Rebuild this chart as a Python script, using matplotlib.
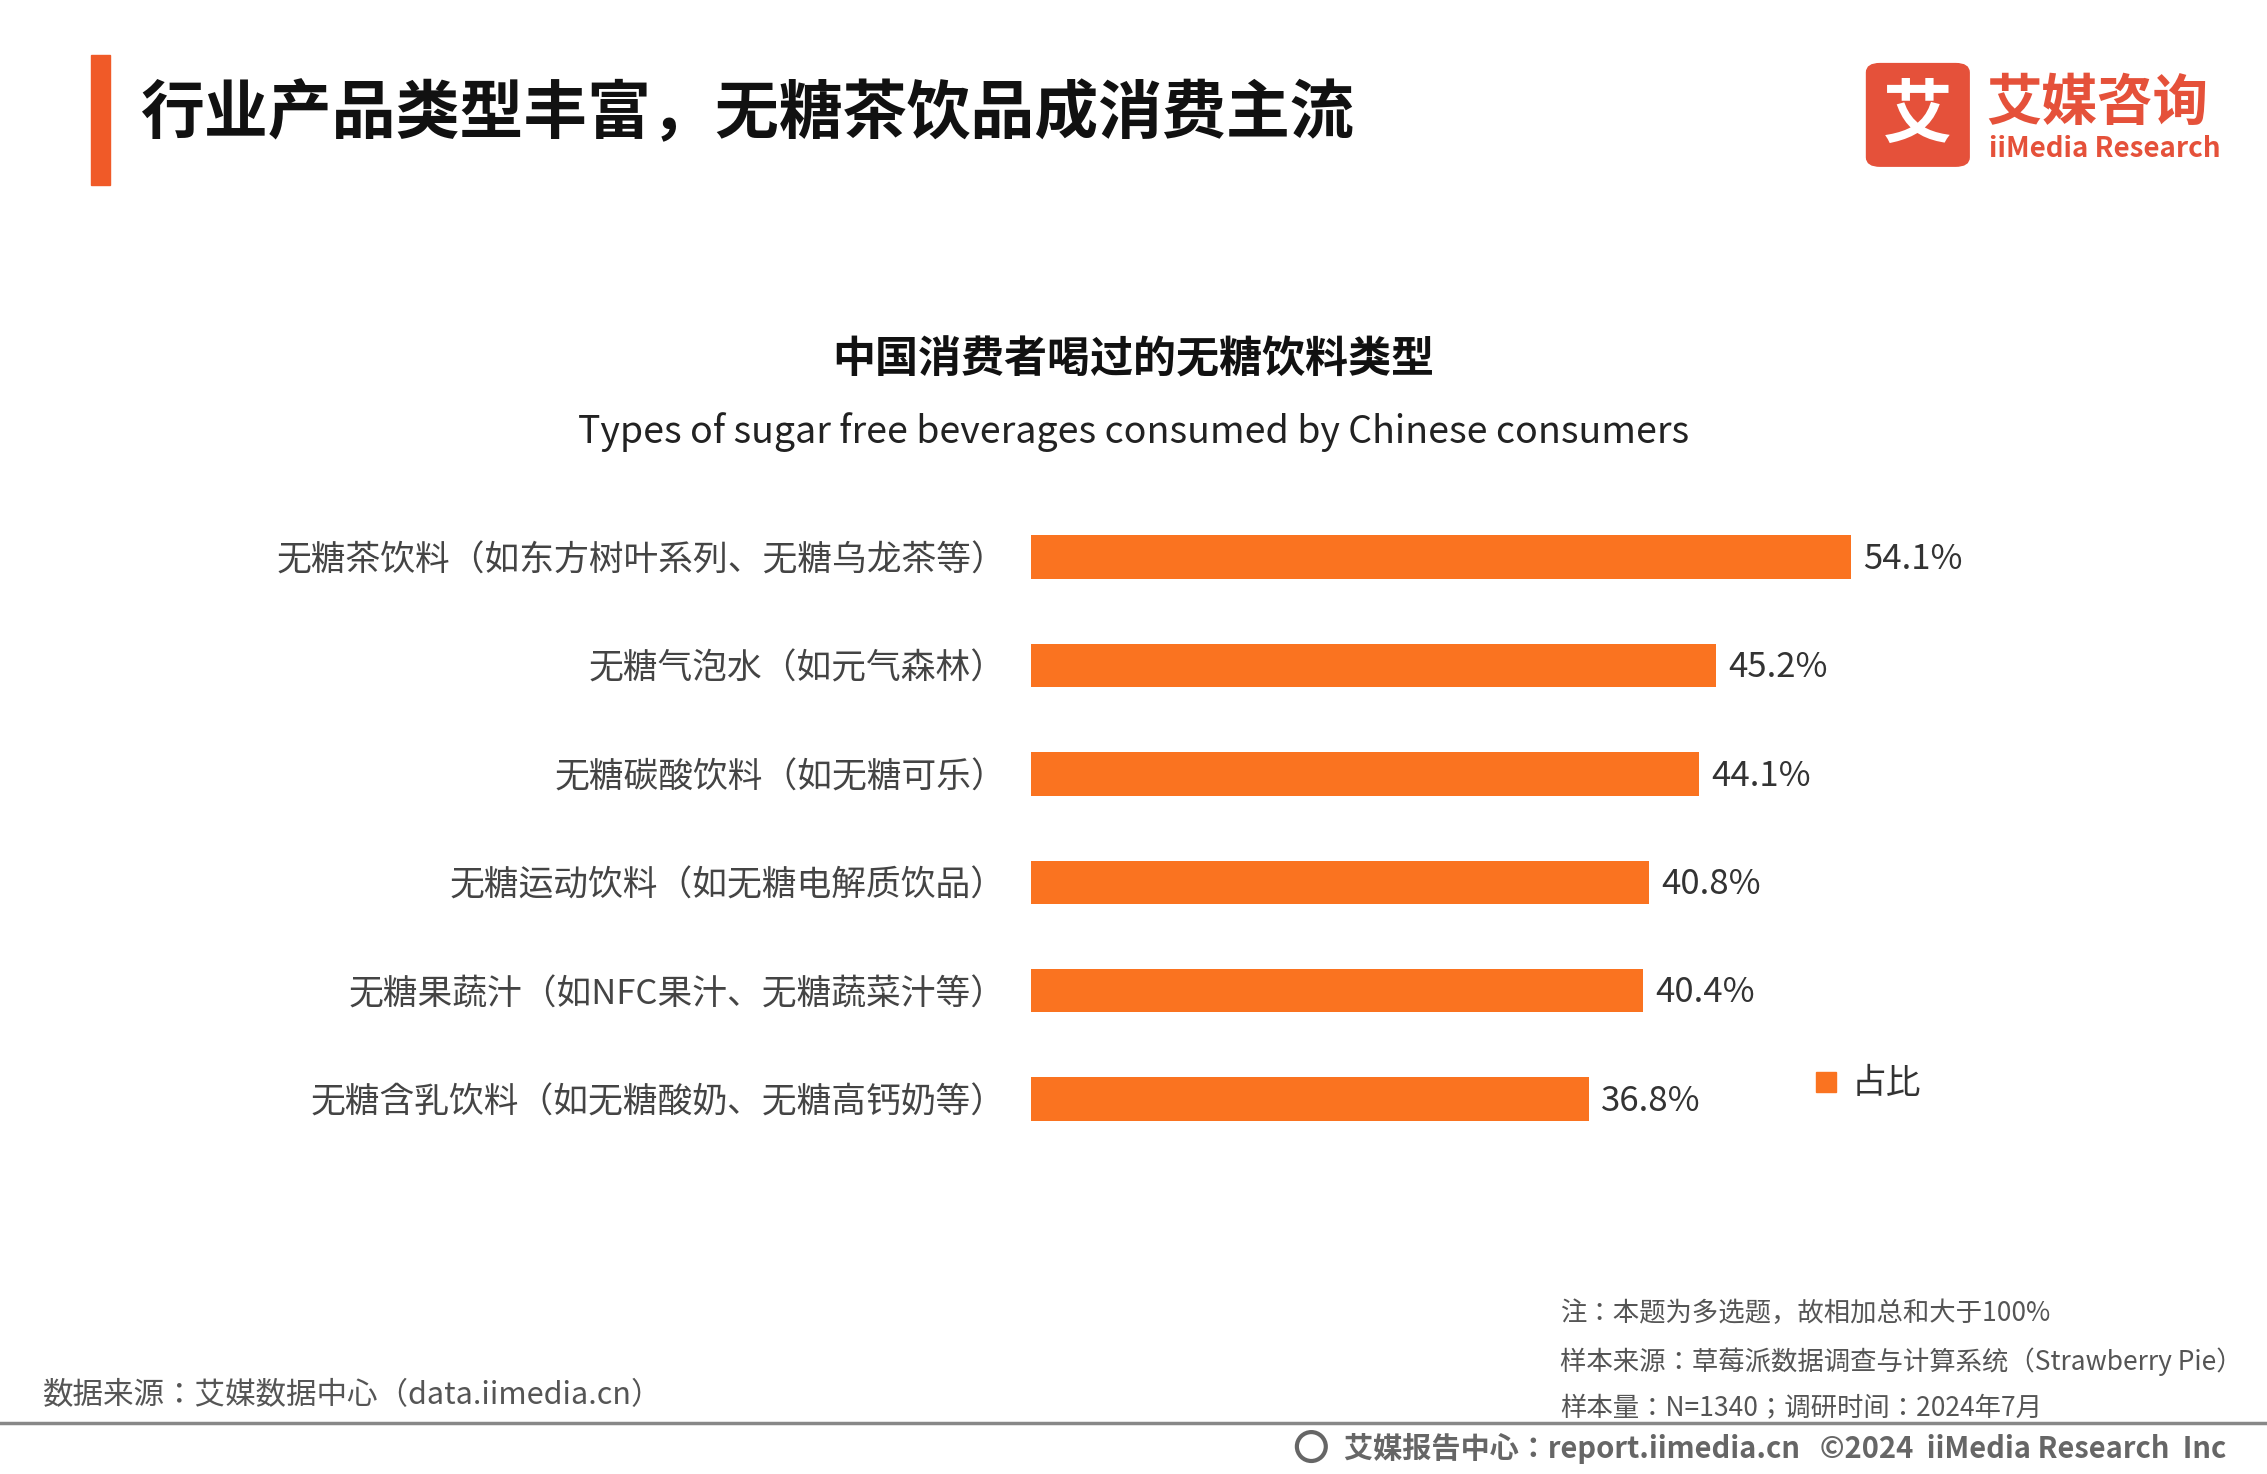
import matplotlib
matplotlib.use("Agg")
import matplotlib.pyplot as plt
from matplotlib import font_manager as fm
from matplotlib.patches import Rectangle, FancyBboxPatch, Ellipse

cjk = sorted({f.name for f in fm.fontManager.ttflist if "CJK" in f.name})
pref = [n for n in ["Noto Sans CJK SC", "Noto Sans CJK JP", "Noto Sans CJK TC", "Noto Sans CJK KR"] if n in cjk] + cjk
plt.rcParams["font.family"] = pref[:1] + ["DejaVu Sans"]

categories = ["无糖茶饮料（如东方树叶系列、无糖乌龙茶等）", "无糖气泡水（如元气森林）",
              "无糖碳酸饮料（如无糖可乐）", "无糖运动饮料（如无糖电解质饮品）",
              "无糖果蔬汁（如NFC果汁、无糖蔬菜汁等）", "无糖含乳饮料（如无糖酸奶、无糖高钙奶等）"]
values = [54.1, 45.2, 44.1, 40.8, 40.4, 36.8]
value_labels = ["54.1%", "45.2%", "44.1%", "40.8%", "40.4%", "36.8%"]

W, H = 1568, 1020
fig = plt.figure(figsize=(22.67, 14.74), dpi=100)
def fx(x): return x / W
def fy(y): return 1 - y / H

orange = "#FA7320"
ax = fig.add_axes([fx(713), fy(798), fx(629), 450 / H])
ax.barh(range(len(values)), values, height=0.4, color=orange)
ax.set_ylim(5.5, -0.5)
ax.set_xlim(0, 60)
for i, (v, t) in enumerate(zip(values, value_labels)):
    ax.text(v + 0.8, i + 0.02, t, va="center", ha="left", fontsize=25, color="#333333")
ax.set_yticks(range(len(values)))
ax.set_yticklabels(categories, fontsize=25, color="#444444")
ax.tick_params(axis="y", length=0, pad=18)
ax.set_xticks([])
for s in ax.spines.values():
    s.set_visible(False)

# header
fig.patches.append(Rectangle((fx(63), fy(128)), fx(13), 90 / H, color="#F05A28", transform=fig.transFigure))
fig.text(fx(97), fy(79), "行业产品类型丰富，无糖茶饮品成消费主流", fontsize=46, fontweight="bold", va="center", color="#111111")
# logo
fig.patches.append(FancyBboxPatch((fx(1291), fy(115)), fx(71), 71 / H,
                                  boxstyle="round,pad=0,rounding_size=0.006", color="#E5513A", transform=fig.transFigure))
fig.text(fx(1326.5), fy(81), "艾", fontsize=50, fontweight="bold", color="white", ha="center", va="center")
fig.text(fx(1374), fy(72), "艾媒咨询", fontsize=40, fontweight="bold", color="#E5513A", va="center")
fig.text(fx(1376), fy(103), "iiMedia Research", fontsize=20, fontweight="bold", color="#E5513A", va="center")

# chart titles
fig.text(fx(784), fy(249), "中国消费者喝过的无糖饮料类型", fontsize=31, fontweight="bold", ha="center", va="center", color="#111111")
fig.text(fx(784), fy(299), "Types of sugar free beverages consumed by Chinese consumers", fontsize=27, ha="center", va="center", color="#222222")

# legend
fig.patches.append(Rectangle((fx(1256), fy(756)), fx(14), 14 / H, color=orange, transform=fig.transFigure))
fig.text(fx(1281), fy(750), "占比", fontsize=25, va="center", color="#333333")

# notes
for y, t in [(909, "注：本题为多选题，故相加总和大于100%"),
             (942, "样本来源：草莓派数据调查与计算系统（Strawberry Pie）"),
             (975, "样本量：N=1340；调研时间：2024年7月")]:
    fig.text(fx(1079), fy(y), t, fontsize=19, va="center", color="#555555")
fig.text(fx(30), fy(966), "数据来源：艾媒数据中心（data.iimedia.cn）", fontsize=22, va="center", color="#555555")

fig.add_artist(plt.Line2D([0, 1], [fy(985), fy(985)], color="#888888", lw=2.5, transform=fig.transFigure))
fig.patches.append(Ellipse((fx(907), fy(1001)), 20 / W, 20 / H, fill=False, ec="#666666", lw=3, transform=fig.transFigure))
fig.text(fx(1540), fy(1002), "艾媒报告中心：report.iimedia.cn   ©2024  iiMedia Research  Inc",
         fontsize=21, fontweight="bold", ha="right", va="center", color="#666666")

fig.savefig("out.png", dpi=100)
